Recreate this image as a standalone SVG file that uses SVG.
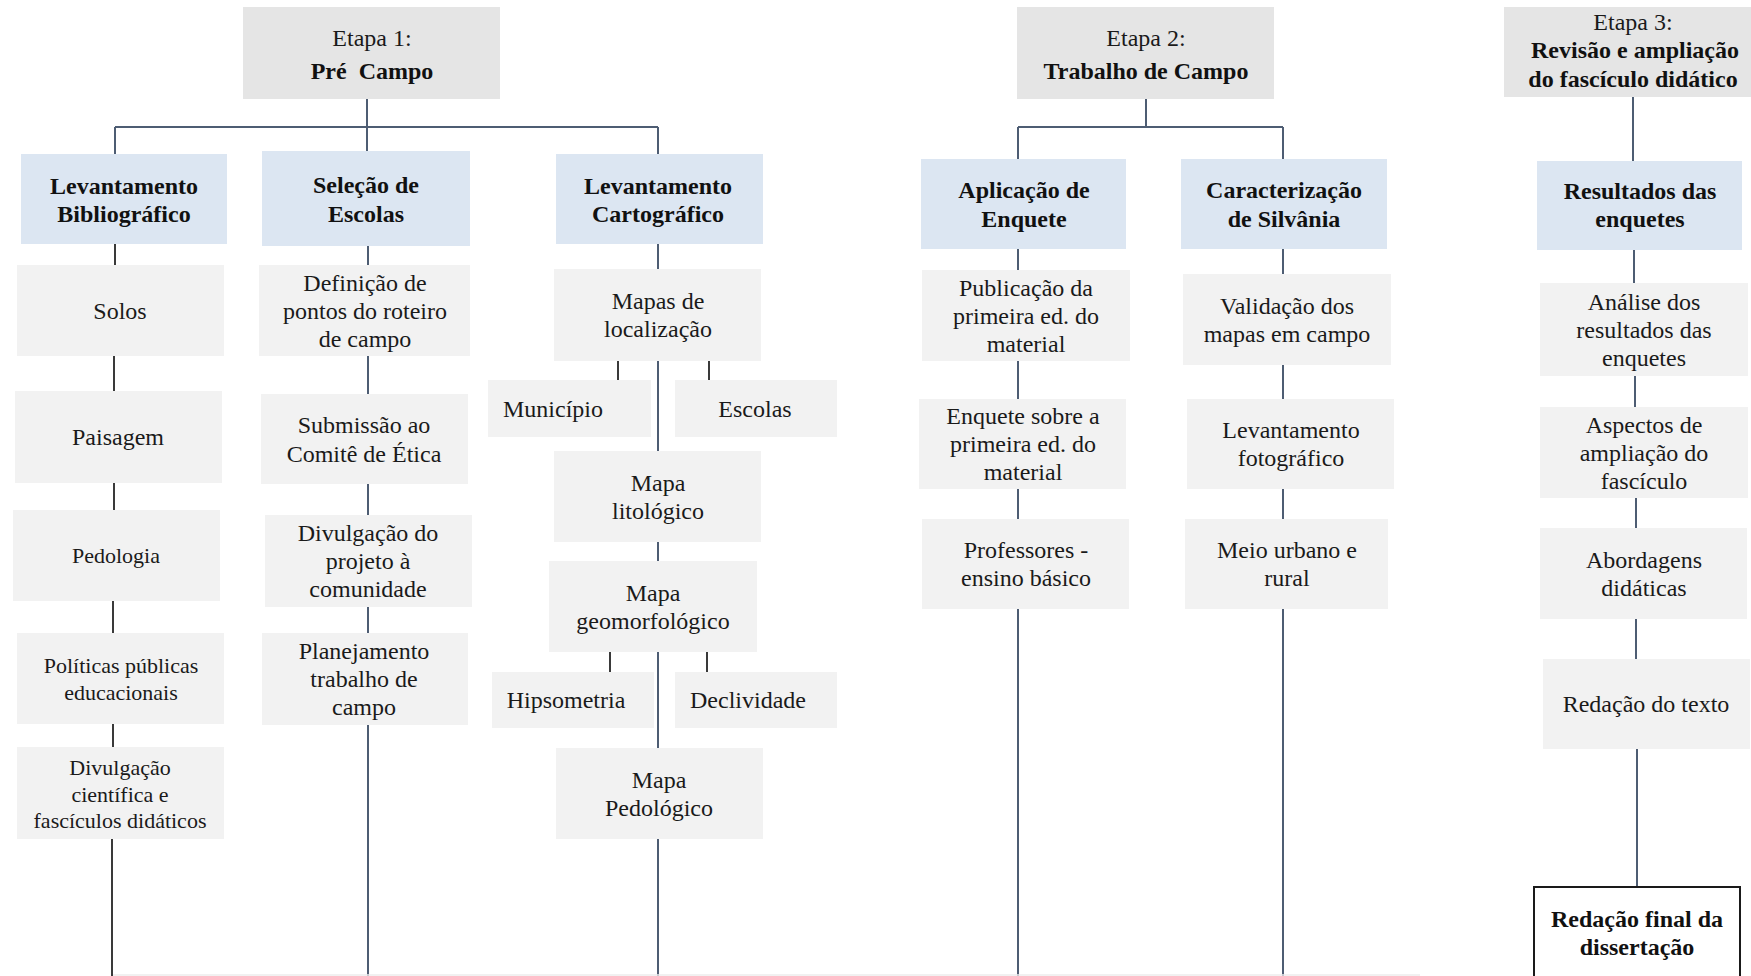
<svg xmlns="http://www.w3.org/2000/svg" width="1751" height="976" viewBox="0 0 1751 976">
<style>
.hd{fill:#e5e5e5}
.bl{fill:#dce6f2}
.gr{fill:#f2f2f2}
text{font-family:"Liberation Serif","Times New Roman",serif;font-size:24px;fill:#1a1a1a;text-anchor:middle}
.b{font-weight:bold;fill:#111}
.s22{font-size:22px}
.c{fill:none;stroke:#4e5d73;stroke-width:2}
.k{fill:none;stroke:#3a3a3a;stroke-width:2}
</style>
<rect width="1751" height="976" fill="#ffffff"/>
<g id="connectors">
<path class="c" d="M367,99V151M115,127H658M115,127V154M658,127V154"/>
<path class="k" d="M115,244V265M114,356V391M114,483V510M113,601V633M113,724V747M112,839V976"/>
<path class="c" d="M368,246V265M368,356V394M368,484V515M368,607V633M368,725V976"/>
<path class="c" d="M658,244V269M658,361V451M658,542V561M658,652V748M658,839V976"/>
<path class="k" d="M618,361V380M709,361V380M610,652V672M707,652V672"/>
<path class="c" d="M1146,99V127M1018,127H1283M1018,127V159M1283,127V159"/>
<path class="c" d="M1018,249V270M1018,361V399M1018,489V519M1018,609V976"/>
<path class="c" d="M1283,249V274M1283,365V399M1283,489V519M1283,609V976"/>
<path class="c" d="M1633,97V161M1634,250V283M1635,376V407M1636,498V528M1636,619V659M1637,749V886"/>
<path d="M113,975H1420" stroke="#ececec" stroke-width="1.5" fill="none"/>
</g>
<g id="etapa1"><rect class="hd" x="243" y="7" width="257" height="92"/><text x="372" y="46">Etapa 1:</text><text class="b" x="372" y="79" xml:space="preserve">Pré  Campo</text></g>
<g id="etapa2"><rect class="hd" x="1017" y="7" width="257" height="92"/><text x="1146" y="46">Etapa 2:</text><text class="b" x="1146" y="79">Trabalho de Campo</text></g>
<g id="etapa3"><rect class="hd" x="1504" y="7" width="250" height="90"/><text x="1633" y="30">Etapa 3:</text><text class="b" x="1635" y="58">Revisão e ampliação</text><text class="b" x="1633" y="87">do fascículo didático</text></g>

<g id="levBib"><rect class="bl" x="21" y="154" width="206" height="90"/><text class="b" x="124" y="194">Levantamento</text><text class="b" x="124" y="222">Bibliográfico</text></g>
<g id="selEsc"><rect class="bl" x="262" y="151" width="208" height="95"/><text class="b" x="366" y="193">Seleção de</text><text class="b" x="366" y="222">Escolas</text></g>
<g id="levCart"><rect class="bl" x="556" y="154" width="207" height="90"/><text class="b" x="658" y="194">Levantamento</text><text class="b" x="658" y="222">Cartográfico</text></g>
<g id="aplEnq"><rect class="bl" x="921" y="159" width="205" height="90"/><text class="b" x="1024" y="198">Aplicação de</text><text class="b" x="1024" y="227">Enquete</text></g>
<g id="carSil"><rect class="bl" x="1181" y="159" width="206" height="90"/><text class="b" x="1284" y="198">Caracterização</text><text class="b" x="1284" y="227">de Silvânia</text></g>
<g id="resEnq"><rect class="bl" x="1537" y="161" width="205" height="89"/><text class="b" x="1640" y="199">Resultados das</text><text class="b" x="1640" y="227">enquetes</text></g>

<g id="solos"><rect class="gr" x="17" y="265" width="207" height="91"/><text x="120" y="319">Solos</text></g>
<g id="paisagem"><rect class="gr" x="15" y="391" width="207" height="92"/><text x="118" y="445">Paisagem</text></g>
<g id="pedologia"><rect class="gr" x="13" y="510" width="207" height="91"/><text class="s22" x="116" y="563">Pedologia</text></g>
<g id="politicas"><rect class="gr" x="17" y="633" width="207" height="91"/><text class="s22" x="121" y="673">Políticas públicas</text><text class="s22" x="121" y="700">educacionais</text></g>
<g id="divCient"><rect class="gr" x="17" y="747" width="207" height="92"/><text class="s22" x="120" y="775">Divulgação</text><text class="s22" x="120" y="802">científica e</text><text class="s22" x="120" y="828">fascículos didáticos</text></g>

<g id="definicao"><rect class="gr" x="259" y="265" width="211" height="91"/><text x="365" y="291">Definição de</text><text x="365" y="319">pontos do roteiro</text><text x="365" y="347">de campo</text></g>
<g id="submissao"><rect class="gr" x="261" y="394" width="207" height="90"/><text x="364" y="433">Submissão ao</text><text x="364" y="462">Comitê de Ética</text></g>
<g id="divProj"><rect class="gr" x="265" y="515" width="207" height="92"/><text x="368" y="541">Divulgação do</text><text x="368" y="569">projeto à</text><text x="368" y="597">comunidade</text></g>
<g id="planej"><rect class="gr" x="262" y="633" width="206" height="92"/><text x="364" y="659">Planejamento</text><text x="364" y="687">trabalho de</text><text x="364" y="715">campo</text></g>

<g id="mapasLoc"><rect class="gr" x="554" y="269" width="207" height="92"/><text x="658" y="309">Mapas de</text><text x="658" y="337">localização</text></g>
<g id="municipio"><rect class="gr" x="488" y="380" width="163" height="57"/><text x="553" y="417">Município</text></g>
<g id="escolas"><rect class="gr" x="675" y="380" width="162" height="57"/><text x="755" y="417">Escolas</text></g>
<g id="litologico"><rect class="gr" x="554" y="451" width="207" height="91"/><text x="658" y="491">Mapa</text><text x="658" y="519">litológico</text></g>
<g id="geomorf"><rect class="gr" x="549" y="561" width="208" height="91"/><text x="653" y="601">Mapa</text><text x="653" y="629">geomorfológico</text></g>
<g id="hipso"><rect class="gr" x="492" y="672" width="162" height="56"/><text x="566" y="708">Hipsometria</text></g>
<g id="decliv"><rect class="gr" x="675" y="672" width="162" height="56"/><text x="748" y="708">Declividade</text></g>
<g id="pedolog"><rect class="gr" x="556" y="748" width="207" height="91"/><text x="659" y="788">Mapa</text><text x="659" y="816">Pedológico</text></g>

<g id="publicacao"><rect class="gr" x="922" y="270" width="208" height="91"/><text x="1026" y="296">Publicação da</text><text x="1026" y="324">primeira ed. do</text><text x="1026" y="352">material</text></g>
<g id="enqSobre"><rect class="gr" x="919" y="399" width="207" height="90"/><text x="1023" y="424">Enquete sobre a</text><text x="1023" y="452">primeira ed. do</text><text x="1023" y="480">material</text></g>
<g id="professores"><rect class="gr" x="922" y="519" width="207" height="90"/><text x="1026" y="558">Professores -</text><text x="1026" y="586">ensino básico</text></g>
<g id="validacao"><rect class="gr" x="1183" y="274" width="208" height="91"/><text x="1287" y="314">Validação dos</text><text x="1287" y="342">mapas em campo</text></g>
<g id="levFoto"><rect class="gr" x="1187" y="399" width="207" height="90"/><text x="1291" y="438">Levantamento</text><text x="1291" y="466">fotográfico</text></g>
<g id="meio"><rect class="gr" x="1185" y="519" width="203" height="90"/><text x="1287" y="558">Meio urbano e</text><text x="1287" y="586">rural</text></g>

<g id="analise"><rect class="gr" x="1540" y="283" width="208" height="93"/><text x="1644" y="310">Análise dos</text><text x="1644" y="338">resultados das</text><text x="1644" y="366">enquetes</text></g>
<g id="aspectos"><rect class="gr" x="1540" y="407" width="208" height="91"/><text x="1644" y="433">Aspectos de</text><text x="1644" y="461">ampliação do</text><text x="1644" y="489">fascículo</text></g>
<g id="abordagens"><rect class="gr" x="1540" y="528" width="207" height="91"/><text x="1644" y="568">Abordagens</text><text x="1644" y="596">didáticas</text></g>
<g id="redTexto"><rect class="gr" x="1543" y="659" width="207" height="90"/><text x="1646" y="712">Redação do texto</text></g>
<g id="redFinal"><rect x="1534" y="887" width="206" height="95" fill="#ffffff" stroke="#1a1a1a" stroke-width="2"/><text class="b" x="1637" y="927">Redação final da</text><text class="b" x="1637" y="955">dissertação</text></g>
</svg>
